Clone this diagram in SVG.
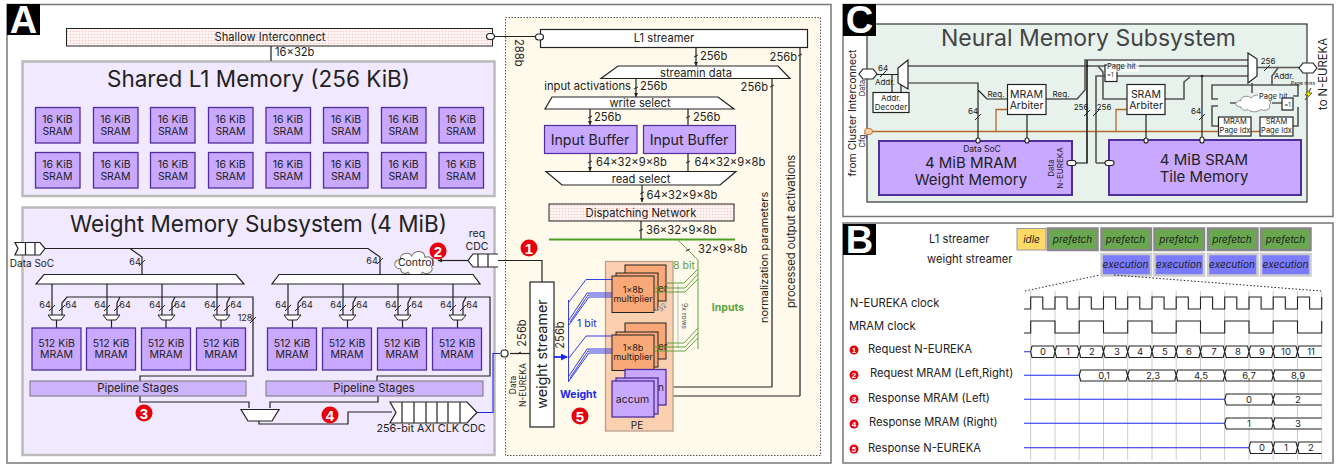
<svg xmlns="http://www.w3.org/2000/svg" width="1338" height="464" viewBox="0 0 1338 464">
<style>
text{font-family:Inter,"Noto Sans","DejaVu Sans",sans-serif;fill:#222}
.c{text-anchor:middle}.e{text-anchor:end}
.p{fill:none;stroke:#222;stroke-width:1.2}
.g{fill:none;stroke:#555;stroke-width:1.6}
.lbl{font-size:11.200px}
.pan{fill:#fff;stroke:#777;stroke-width:1.5}
.sys{fill:#f1e9ff;stroke:#bbb;stroke-width:2.5}
.pu{fill:#c9a8ff;stroke:#4f2d9e;stroke-width:1.3}
.or{fill:#f9a877;stroke:#222;stroke-width:1}
.wh{fill:#fff;stroke:#222;stroke-width:1.2}
.mx{fill:#fff;stroke:#222;stroke-width:1.2}
.bl{fill:none;stroke:#1c28e8;stroke-width:.9}
.gr{fill:none;stroke:#4f9e2b;stroke-width:.9}
.org{fill:none;stroke:#b5652a;stroke-width:1.3}
.hd{fill:#000}.hdt{font-size:38px;font-weight:800;fill:#fff;font-family:"Liberation Sans",sans-serif}
.pre{fill:#6aa84f;stroke:#888;stroke-width:2.5}
.exe{fill:#7b7bff;stroke:#ccc;stroke-width:2.5}
.it{font-style:italic;font-size:10px}
.v{fill:#fff;stroke:#222;stroke-width:1.1}
.vt{font-size:9.500px}
.wv{fill:none;stroke:#222;stroke-width:1.1}
.grid{stroke:#ccc;stroke-width:1}
.rl{font-size:11.200px}
.nb{fill:#e8000d}.nbt{fill:#fff;font-weight:800;text-anchor:middle;font-family:"Liberation Sans",sans-serif}
.port{fill:#fff;stroke:#222;stroke-width:1.1}
</style>
<defs>
<pattern id="dots" width="3" height="3" patternUnits="userSpaceOnUse"><rect width="3" height="3" fill="#fff6f4"/><circle cx="1.5" cy="1.5" r=".8" fill="#f6c4c4"/></pattern>
<marker id="ah" markerUnits="userSpaceOnUse" markerWidth="5" markerHeight="5" refX="4" refY="2.5" orient="auto"><path d="M0 .5L4 2.500L0 4.500Z" fill="#222"/></marker>
<marker id="bh" markerUnits="userSpaceOnUse" markerWidth="7" markerHeight="7" refX="6" refY="3.5" orient="auto"><path d="M0 0L7 3.500L0 7Z" fill="#1c28e8"/></marker>
<path id="t" d="M-3 3L3-3" fill="none" stroke="#222" stroke-width="1"/>
<path id="k" d="M-2 1L2-1" fill="none" stroke="#222" stroke-width="1"/>
<path id="cl" d="M-14 5C-21 5-21-3-14-3C-15-9-6-10-4-6C-1-12 8-11 8-5C14-7 18 0 14 3C17 8 9 11 6 8C3 12-5 12-7 8C-10 10-14 9-14 5Z" fill="#fff" stroke="#777" stroke-width=".9"/>
</defs>

<g id="panel-A"><rect class="pan" x="7" y="4.500" width="824" height="458.500"/><rect class="hd" x="7" y="4" width="33" height="31"/><text class="hdt c" x="23.500" y="33">A</text></g>
<g id="panel-C"><rect class="pan" x="843" y="4.500" width="490" height="212"/></g>
<g id="panel-B"><rect class="pan" x="843" y="223" width="490" height="240"/><rect class="hd" x="843" y="224" width="33" height="31"/><text class="hdt c" x="859.500" y="253">B</text></g>

<g id="shared-l1"><rect class="sys" x="22.500" y="61.500" width="472" height="134.500"/><text class="c" x="258.500" y="86.500" font-size="22.500">Shared L1 Memory (256 KiB)</text></g>
<g id="weight-memory"><rect class="sys" x="22.500" y="207.500" width="472" height="247.500"/><text class="c" x="258.500" y="231.500" font-size="22.500">Weight Memory Subsystem (4 MiB)</text></g>
<g id="nexus"><rect x="505.500" y="17.500" width="315" height="438" fill="#fffaeb" stroke="#555" stroke-width="1" stroke-dasharray="1.500 1.500"/></g>

<g id="connectors-a">
<path class="g" d="M271 46V61"/>
<path class="p" d="M492 36.500H540"/>
<path class="p" d="M45 248.500H368L380 257V274M130 248.500L142 257V274"/>
<path class="p" d="M52 284V315M107 284V315M162 284V315M217 284V315M288 284V315M343 284V315M398 284V315M453 284V315"/>
<path class="p" d="M62 315V303L67 297H253V376H140V381M117 315V303L120 297M172 315V303L175 297M227 315V303L230 297"/>
<path class="p" d="M298 315V303L303 297H490V376H377V381M353 315V303L356 297M408 315V303L411 297M463 315V303L466 297"/>
<path class="p" d="M56.500 320V328M111.500 320V328M166 320V328M221 320V328M292.500 320V328M347.500 320V328M402.500 320V328M457.500 320V328"/>
<path class="p" d="M140 396V402H249V408M378 396V402H270V408M259 421V424H348V412H392"/>
<path fill="none" stroke="#1c28e8" stroke-width="1.100" d="M477 412.500H493V353.500H500"/>
<path class="p" marker-end="url(#ah)" d="M468 260.500H438"/>
<path class="p" d="M498 260.500H542V282"/>
<path class="p" d="M510 353.500H530"/>
<path class="p" marker-end="url(#ah)" d="M696 47V66"/>
<path class="p" marker-end="url(#ah)" d="M636 79V97"/>
<path class="p" marker-end="url(#ah)" d="M590 109V125"/>
<path class="p" d="M688 109V125"/>
<path class="p" marker-end="url(#ah)" d="M590 153V171"/>
<path class="p" d="M688 153V171"/>
<path class="p" marker-end="url(#ah)" d="M642 185V202"/>
<path class="p" d="M641 221V239"/>
<path class="g" d="M772 387V78"/>
<path class="p" d="M772 387H666" marker-end="url(#ah)"/>
<path class="g" d="M800 396V47"/>
<path class="p" d="M666 396H800"/>
<use href="#k" x="696" y="56"/><use href="#k" x="636" y="88"/><use href="#k" x="590" y="117"/><use href="#k" x="688" y="117"/><use href="#k" x="590" y="162"/><use href="#k" x="688" y="162"/><use href="#k" x="642" y="193"/><use href="#k" x="641" y="230"/><use href="#k" x="772" y="86"/><use href="#k" x="800" y="55"/><use href="#k" x="519" y="353"/>
<use href="#t" x="52" y="308"/><use href="#t" x="62" y="308"/><use href="#t" x="107" y="308"/><use href="#t" x="117" y="308"/><use href="#t" x="162" y="308"/><use href="#t" x="172" y="308"/><use href="#t" x="217" y="308"/><use href="#t" x="227" y="308"/>
<use href="#t" x="288" y="308"/><use href="#t" x="298" y="308"/><use href="#t" x="343" y="308"/><use href="#t" x="353" y="308"/><use href="#t" x="398" y="308"/><use href="#t" x="408" y="308"/><use href="#t" x="453" y="308"/><use href="#t" x="463" y="308"/>
<use href="#t" x="142" y="263"/><use href="#t" x="380" y="261"/><use href="#t" x="253" y="320"/>
</g>

<g id="shallow-interconnect"><rect x="66.500" y="28.500" width="426" height="17.500" fill="url(#dots)" stroke="#222" stroke-width="1"/><rect class="port" x="486.500" y="33.500" width="8" height="6" rx="3"/><text class="c lbl" x="270" y="40.500">Shallow Interconnect</text></g>
<text class="lbl" x="275" y="56">16×32b</text>

<g id="sram-nodes" font-size="10.500">
<g id="s1"><rect class="pu" x="35.500" y="107.500" width="44.500" height="35.500"/><text class="c" x="57.500" y="122.500">16 KiB</text><text class="c" x="57.500" y="134.500">SRAM</text></g>
<g id="s2"><rect class="pu" x="93.500" y="107.500" width="44.500" height="35.500"/><text class="c" x="115.500" y="122.500">16 KiB</text><text class="c" x="115.500" y="134.500">SRAM</text></g>
<g id="s3"><rect class="pu" x="150.500" y="107.500" width="44.500" height="35.500"/><text class="c" x="173" y="122.500">16 KiB</text><text class="c" x="173" y="134.500">SRAM</text></g>
<g id="s4"><rect class="pu" x="208.500" y="107.500" width="44.500" height="35.500"/><text class="c" x="230.500" y="122.500">16 KiB</text><text class="c" x="230.500" y="134.500">SRAM</text></g>
<g id="s5"><rect class="pu" x="266" y="107.500" width="44.500" height="35.500"/><text class="c" x="288" y="122.500">16 KiB</text><text class="c" x="288" y="134.500">SRAM</text></g>
<g id="s6"><rect class="pu" x="323.500" y="107.500" width="44.500" height="35.500"/><text class="c" x="346" y="122.500">16 KiB</text><text class="c" x="346" y="134.500">SRAM</text></g>
<g id="s7"><rect class="pu" x="381.500" y="107.500" width="44.500" height="35.500"/><text class="c" x="403.500" y="122.500">16 KiB</text><text class="c" x="403.500" y="134.500">SRAM</text></g>
<g id="s8"><rect class="pu" x="439" y="107.500" width="44.500" height="35.500"/><text class="c" x="461" y="122.500">16 KiB</text><text class="c" x="461" y="134.500">SRAM</text></g>
<g id="s9"><rect class="pu" x="35.500" y="152.500" width="44.500" height="35.500"/><text class="c" x="57.500" y="167.500">16 KiB</text><text class="c" x="57.500" y="179.500">SRAM</text></g>
<g id="s10"><rect class="pu" x="93.500" y="152.500" width="44.500" height="35.500"/><text class="c" x="115.500" y="167.500">16 KiB</text><text class="c" x="115.500" y="179.500">SRAM</text></g>
<g id="s11"><rect class="pu" x="150.500" y="152.500" width="44.500" height="35.500"/><text class="c" x="173" y="167.500">16 KiB</text><text class="c" x="173" y="179.500">SRAM</text></g>
<g id="s12"><rect class="pu" x="208.500" y="152.500" width="44.500" height="35.500"/><text class="c" x="230.500" y="167.500">16 KiB</text><text class="c" x="230.500" y="179.500">SRAM</text></g>
<g id="s13"><rect class="pu" x="266" y="152.500" width="44.500" height="35.500"/><text class="c" x="288" y="167.500">16 KiB</text><text class="c" x="288" y="179.500">SRAM</text></g>
<g id="s14"><rect class="pu" x="323.500" y="152.500" width="44.500" height="35.500"/><text class="c" x="346" y="167.500">16 KiB</text><text class="c" x="346" y="179.500">SRAM</text></g>
<g id="s15"><rect class="pu" x="381.500" y="152.500" width="44.500" height="35.500"/><text class="c" x="403.500" y="167.500">16 KiB</text><text class="c" x="403.500" y="179.500">SRAM</text></g>
<g id="s16"><rect class="pu" x="439" y="152.500" width="44.500" height="35.500"/><text class="c" x="461" y="167.500">16 KiB</text><text class="c" x="461" y="179.500">SRAM</text></g>
</g>

<g id="weight-parts">
<g id="data-soc-fifo"><path class="wh" d="M15 242.500H40L45 248.500L40 255H15L18 248.500ZM25.500 242.500V255M35 242.500V255"/><text class="c" x="32" y="267" font-size="10">Data SoC</text></g>
<g id="control"><use href="#cl" transform="translate(416 263) scale(1.100 1.150)"/><text class="c" x="416" y="266" font-size="10.500">Control</text></g>
<g id="req-cdc"><path class="wh" d="M498 254H473L468 260.500L473 267H498M478 254V267M488 254V267"/><text class="c" x="477" y="236.500" font-size="10.500">req</text><text class="c" x="477" y="249.500" font-size="10.500">CDC</text></g>
<polygon id="dec-left" class="mx" points="44,274.500 236,274.500 244,284 36,284"/>
<polygon id="dec-right" class="mx" points="279,274.500 473,274.500 480,284 272,284"/>
<g fill="#fff" stroke="#222" stroke-width="1"><path d="M48 315H65L61 320H52Z"/><path d="M103 315H120L116 320H107Z"/><path d="M158 315H175L171 320H162Z"/><path d="M213 315H230L226 320H217Z"/><path d="M284 315H301L297 320H288Z"/><path d="M339 315H356L352 320H343Z"/><path d="M394 315H411L407 320H398Z"/><path d="M449 315H466L462 320H453Z"/></g>
<g font-size="9">
<text class="c" x="45" y="308">64</text><text class="c" x="71" y="308">64</text><text class="c" x="100" y="308">64</text><text class="c" x="125" y="308">64</text><text class="c" x="155" y="308">64</text><text class="c" x="180" y="308">64</text><text class="c" x="210" y="308">64</text><text class="c" x="236" y="308">64</text>
<text class="c" x="281" y="308">64</text><text class="c" x="307" y="308">64</text><text class="c" x="336" y="308">64</text><text class="c" x="362" y="308">64</text><text class="c" x="391" y="308">64</text><text class="c" x="417" y="308">64</text><text class="c" x="446" y="308">64</text><text class="c" x="472" y="308">64</text>
<text class="c" x="135" y="265">64</text><text class="c" x="372" y="264">64</text><text class="c" x="245" y="321">128</text></g>
<g id="mram1"><rect class="pu" x="32" y="328" width="49" height="42"/><text class="c" font-size="10.500" x="56.500" y="347">512 KiB</text><text class="c" font-size="10.500" x="56.500" y="358">MRAM</text></g>
<g id="mram2"><rect class="pu" x="86.500" y="328" width="49" height="42"/><text class="c" font-size="10.500" x="111" y="347">512 KiB</text><text class="c" font-size="10.500" x="111" y="358">MRAM</text></g>
<g id="mram3"><rect class="pu" x="141.500" y="328" width="49" height="42"/><text class="c" font-size="10.500" x="166" y="347">512 KiB</text><text class="c" font-size="10.500" x="166" y="358">MRAM</text></g>
<g id="mram4"><rect class="pu" x="196.500" y="328" width="49" height="42"/><text class="c" font-size="10.500" x="221" y="347">512 KiB</text><text class="c" font-size="10.500" x="221" y="358">MRAM</text></g>
<g id="mram5"><rect class="pu" x="267.500" y="328" width="49" height="42"/><text class="c" font-size="10.500" x="292" y="347">512 KiB</text><text class="c" font-size="10.500" x="292" y="358">MRAM</text></g>
<g id="mram6"><rect class="pu" x="322.500" y="328" width="49" height="42"/><text class="c" font-size="10.500" x="347" y="347">512 KiB</text><text class="c" font-size="10.500" x="347" y="358">MRAM</text></g>
<g id="mram7"><rect class="pu" x="377.500" y="328" width="49" height="42"/><text class="c" font-size="10.500" x="402" y="347">512 KiB</text><text class="c" font-size="10.500" x="402" y="358">MRAM</text></g>
<g id="mram8"><rect class="pu" x="432.500" y="328" width="49" height="42"/><text class="c" font-size="10.500" x="457" y="347">512 KiB</text><text class="c" font-size="10.500" x="457" y="358">MRAM</text></g>
<g id="pipe-left"><rect x="30" y="381" width="216" height="15" fill="#cdb4fb" stroke="#777"/><text class="c lbl" x="138" y="392">Pipeline Stages</text></g>
<g id="pipe-right"><rect x="266" y="381" width="217" height="15" fill="#cdb4fb" stroke="#777"/><text class="c lbl" x="374" y="392">Pipeline Stages</text></g>
<polygon id="mux-out" class="mx" points="241,409.500 279,409.500 272,421 248,421"/>
<g id="axi-cdc"><path class="wh" d="M390 402H467L477 412.500L467 423H390L396 412.500ZM402 402V423M414 402V423M426 402V423M437 402V423M448 402V423M460 402V423"/><text class="c" x="431" y="431.500" font-size="10.800">256-bit AXI CLK CDC</text></g>
</g>

<g id="nexus-parts">
<g id="l1-streamer"><rect class="wh" x="540.500" y="29.500" width="267" height="18"/><rect class="port" x="535.500" y="34" width="8" height="6" rx="3"/><text class="c lbl" x="664" y="42">L1 streamer</text></g>
<text class="lbl" transform="translate(515 39) rotate(90)">288b</text>
<g id="streamin"><polygon class="mx" points="618,66 778,66 790,78.500 601,78.500"/><text class="c lbl" x="696" y="76.500">streamin data</text></g>
<g id="write-select"><polygon class="mx" points="552,97 718,97 734,109 545,109"/><text class="c lbl" x="640" y="107">write select</text></g>
<g id="ib1"><rect x="544.500" y="125.500" width="92.500" height="28" fill="#c9a8ff" stroke="#4f2d9e" stroke-width="1.200"/><text class="c" x="590" y="144.500" font-size="14.200">Input Buffer</text></g>
<g id="ib2"><rect x="643.500" y="125.500" width="92" height="28" fill="#c9a8ff" stroke="#4f2d9e" stroke-width="1.200"/><text class="c" x="689" y="144.500" font-size="14.200">Input Buffer</text></g>
<g id="read-select"><polygon class="mx" points="546,171.500 736,171.500 720,185 562,185"/><text class="c lbl" x="641" y="183">read select</text></g>
<g id="dispatch"><rect x="549" y="204" width="185" height="17" fill="url(#dots)" stroke="#222" stroke-width="1"/><text class="c lbl" x="641" y="216.500">Dispatching Network</text></g>
<g class="lbl">
<text x="700" y="60">256b</text><text class="e" x="797" y="61">256b</text><text x="640" y="90">256b</text><text class="e" x="631" y="90">input activations</text><text class="e" x="768" y="90.500">256b</text>
<text x="594" y="121">256b</text><text x="693" y="121">256b</text><text x="596" y="166">64×32×9×8b</text><text x="694.500" y="166">64×32×9×8b</text><text x="646.500" y="199">64×32×9×8b</text><text x="646" y="234">36×32×9×8b</text><text x="698" y="253">32×9×8b</text>
</g>
<text font-size="10.900" transform="translate(768 323) rotate(-90)">normalization parameters</text>
<text font-size="11.200" transform="translate(795 308) rotate(-90)">processed output activations</text>
<g id="weight-streamer"><rect class="wh" x="530" y="282" width="24" height="145"/><text class="c" font-size="14.300" transform="translate(547 354) rotate(-90)">weight streamer</text></g>
<rect class="port" x="501" y="350" width="7" height="7" rx="3"/>
<text class="c lbl" transform="translate(526 333) rotate(-90)">256b</text>
<text class="c lbl" transform="translate(564 335) rotate(-90)">256b</text>
<g font-size="8.500"><text class="c" transform="translate(516 385) rotate(-90)">Data</text><text class="c" transform="translate(526 385) rotate(-90)">N-EUREKA</text></g>
<g id="pe"><rect x="605.500" y="261.500" width="67.500" height="169.500" fill="#fbd0b0" stroke="#b8a08f" stroke-width="1.300"/><text class="c" x="637" y="429" font-size="10">PE</text>
<rect class="or" x="625" y="265" width="41" height="36"/><text x="658" y="292" font-size="10">er</text><rect class="or" x="616" y="273" width="42" height="37"/>
<rect class="or" x="612" y="276" width="42" height="36.500"/><text class="c" x="633" y="293" font-size="9">1×8b</text><text class="c" x="633" y="302" font-size="9">multiplier</text>
<rect class="or" x="625" y="323" width="41" height="36"/><text x="658" y="350" font-size="10">er</text><rect class="or" x="616" y="332" width="42" height="35"/>
<rect class="or" x="612" y="335" width="42" height="35.500"/><text class="c" x="633" y="351" font-size="9">1×8b</text><text class="c" x="633" y="360" font-size="9">multiplier</text>
<rect class="pu" x="625" y="369.500" width="41" height="35.500"/><text x="658" y="391" font-size="10">n</text><rect class="pu" x="616" y="378" width="42" height="36"/>
<rect class="pu" x="612" y="381" width="42" height="36"/><text class="c" x="632.500" y="402.500" font-size="10.500">accum</text></g>
<path d="M678 285V348" stroke="#bbb" stroke-width="1" fill="none"/>
<text class="c" font-size="7" transform="translate(682 316) rotate(90)" style="fill:#555">9x rows</text>
<text class="c" font-size="7.500" transform="translate(664 309) rotate(-45)" style="fill:#777">32</text>
<path d="M654 312L668 301" stroke="#bbb" stroke-width="1.500" stroke-dasharray="1.500 1" fill="none"/>
<path d="M549 239.500H735" stroke="#4f9e2b" stroke-width="2.200" fill="none"/>
<path class="gr" d="M678 240L698 260V349"/>
<use href="#k" x="688" y="250"/>
<path class="gr" d="M698 269L684 283H667M698 274L685 288H654M698 279L685 292H654M698 328L684 343H667M698 333L685 347H654M698 338L685 351H654"/>
<text x="673" y="269" font-size="10.500" style="fill:#5aa33a">8 bit</text>
<text class="c" x="728" y="311" font-size="10.500" font-weight="700" style="fill:#5aa33a">Inputs</text>
<path class="bl" d="M568.500 300V382M569 302L586 279.500H612M569 320L587 293H612M570 322L588 295H612M569 325L589 297H612M569 358L586 336H612M569 376L587 349H612M570 378L588 351H612M569 381L589 353H612"/>
<path fill="none" stroke="#1c28e8" stroke-width="1.800" marker-end="url(#bh)" d="M554 357H567"/>
<text x="577" y="327" font-size="10.500" style="fill:#1c28e8">1 bit</text>
<text x="560" y="398" font-size="10.500" font-weight="700" style="fill:#1c28e8">Weight</text>
</g>

<g id="badges-a">
<circle class="nb" cx="529" cy="248" r="8.500"/><text class="nbt" x="529" y="253.500" font-size="15">1</text>
<circle class="nb" cx="438" cy="251" r="8.500"/><text class="nbt" x="438" y="256.500" font-size="15">2</text>
<circle class="nb" cx="144" cy="413" r="8.500"/><text class="nbt" x="144" y="418.500" font-size="15">3</text>
<circle class="nb" cx="330" cy="415" r="8.500"/><text class="nbt" x="330" y="420.500" font-size="15">4</text>
<circle class="nb" cx="580" cy="416" r="8.500"/><text class="nbt" x="580" y="421.500" font-size="15">5</text>
</g>

<g id="nms">
<rect x="867" y="24" width="440" height="178" fill="#e8f2ec" stroke="#333" stroke-width="1.200"/>
<rect class="hd" x="843" y="4" width="33" height="32"/><text class="hdt c" x="859.500" y="33">C</text>
<text class="c" x="1088.500" y="46" font-size="23" style="fill:#444">Neural Memory Subsystem</text>
<text class="c" font-size="10.500" transform="translate(856 113) rotate(-90)">from Cluster Interconnect</text>
<text class="c" font-size="7.500" transform="translate(865 88) rotate(-90)">Data</text>
<text class="c" font-size="7.500" transform="translate(865 140) rotate(-90)">Cfg.</text>
<text class="c" font-size="11.300" transform="translate(1327 74) rotate(-90)">to N-EUREKA</text>
</g>

<g id="connectors-c">
<path class="org" d="M868 131.500H1260M996 131.500V109.500H1007M1116 131.500V109.500H1127"/>
<path class="p" d="M877 74.500H898M892 74.500V92M901 85V92"/>
<path class="g" d="M908 66H1105"/>
<path class="p" d="M908 83H978V142M978 90L987 99H1007"/>
<path class="g" d="M1046 99H1077L1085 90V60H1248M1072 163H1087V60"/>
<path class="p" d="M1087 60V163"/>
<path class="p" d="M1027 114V140M1146 114V140"/>
<path class="g" d="M1096 163H1105M1096 163V76H1248M1117 66H1248"/>
<path class="g" d="M1098 66L1103 72V99H1127M1165 99H1184V82L1190 77"/>
<path class="p" d="M1202 76V140"/>
<path class="g" d="M1257 67.500H1299M1272 85V76L1278 68M1272 85H1212V99H1218M1218 106H1212V126H1218M1230 103H1248M1252 83V93M1272 103H1282M1272 85H1298V96H1293M1298 107V126H1293"/>
<use href="#t" x="883" y="74"/><use href="#t" x="978" y="117"/><use href="#t" x="1202" y="117"/><use href="#t" x="1267" y="68"/><use href="#t" x="1087" y="113"/><use href="#t" x="1096" y="113"/>
<circle cx="1202" cy="76" r="1.300" fill="#222"/><circle cx="1087" cy="66" r="1.300" fill="#222"/>
</g>
<g id="nms-parts" font-size="8">
<polygon points="898,68 908,60 908,89 898,83" fill="#fff" stroke="#222" stroke-width="1.200"/>
<polygon points="1248,53 1257,59 1257,76 1248,83" fill="#fff" stroke="#222" stroke-width="1.200"/>
<g id="c-in"><path class="wh" d="M863 69H873L877 74L873 79H863L859 74Z"/><text class="c" x="883" y="71">64</text><text class="c" x="885" y="85">Addr.</text></g>
<rect x="864.500" y="128.500" width="8" height="6" rx="3" fill="#f4d0b0" stroke="#c87030"/>
<g id="addr-dec"><rect class="wh" x="873" y="92.500" width="36" height="20"/><text class="c" x="891" y="101">Addr.</text><text class="c" x="891" y="109.500">Decoder</text></g>
<g id="mram-arb"><rect class="wh" x="1007.500" y="84.500" width="38.500" height="30"/><text class="c" x="1026.500" y="98" font-size="10.500">MRAM</text><text class="c" x="1026.500" y="108.500" font-size="10.500">Arbiter</text></g>
<g id="sram-arb"><rect class="wh" x="1127" y="84.500" width="38" height="30"/><text class="c" x="1146" y="98" font-size="10.500">SRAM</text><text class="c" x="1146" y="108.500" font-size="10.500">Arbiter</text></g>
<text class="c" x="996" y="97">Req.</text><text class="c" x="1061" y="97">Req.</text><text class="c" x="973" y="114">64</text><text class="c" x="1081" y="110">256</text><text class="c" x="1104" y="110">256</text><text class="c" x="1196" y="114">64</text><text class="c" x="1268" y="64">256</text><text class="c" x="1284" y="79">Addr.</text>
<g id="mram-mem"><rect x="879" y="141" width="193" height="54" fill="#c9a8ff" stroke="#4f2d9e" stroke-width="2"/><text class="c" x="982" y="151.500" font-size="8.500">Data SoC</text><text class="c" x="971" y="168" font-size="15">4 MiB MRAM</text><text class="c" x="971" y="185" font-size="15">Weight Memory</text><text class="c" font-size="8" transform="translate(1054 168) rotate(-90)">Data</text><text class="c" font-size="8" transform="translate(1063 168) rotate(-90)">N-EUREKA</text></g>
<g id="sram-mem"><rect x="1109" y="140" width="192" height="55" fill="#c9a8ff" stroke="#4f2d9e" stroke-width="2"/><text class="c" x="1204" y="165" font-size="15">4 MiB SRAM</text><text class="c" x="1204" y="182" font-size="15">Tile Memory</text></g>
<rect class="port" x="1067" y="160.500" width="9" height="5" rx="2.500"/><rect class="port" x="1105" y="160.500" width="9" height="5" rx="2.500"/>
<rect class="port" x="976" y="138" width="4" height="5" rx="2"/><rect class="port" x="1025" y="138" width="4" height="5" rx="2"/><rect class="port" x="1144" y="138" width="4" height="5" rx="2"/><rect class="port" x="1200" y="137" width="4" height="6" rx="2"/>
<g id="page-mux"><rect class="wh" x="1105" y="65" width="12" height="16.500"/><rect x="1107" y="62" width="32" height="10" fill="#fff" opacity=".7"/><text x="1107" y="69" font-size="7.500">Page hit</text><text x="1107" y="77" font-size="6">=1</text></g>
<g id="out-fifo"><path class="wh" d="M1303 63H1313L1317 68L1313 73H1303L1299 68Z"/></g>
<g id="cloud-c"><use href="#cl" transform="translate(1255 103) scale(1 .8)"/></g>
<rect x="1258" y="91" width="30" height="9" fill="#fff" opacity=".75"/><text x="1259" y="99" font-size="7.500">Page hit</text>
<g id="page-hit"><rect class="wh" x="1282" y="98" width="11" height="12"/><text class="c" x="1287.500" y="107" font-size="6">=1</text></g>
<g id="mram-idx"><rect class="wh" x="1218.500" y="117" width="32.500" height="19"/><text class="c" x="1235" y="124" font-size="7.500">MRAM</text><text class="c" x="1235" y="133" font-size="7.500">Page Idx</text></g>
<g id="sram-idx"><rect class="wh" x="1260" y="117" width="33" height="19"/><text class="c" x="1276.500" y="124" font-size="7.500">SRAM</text><text class="c" x="1276.500" y="133" font-size="7.500">Page Idx</text></g>
<text class="c" x="1303" y="85" font-size="5">Page miss</text>
<path d="M1311 88L1305 95H1308L1305 100L1312 93H1309Z" fill="#ffe600" stroke="#222" stroke-width=".6"/>
</g>

<g id="timeline">
<text x="929" y="243" class="rl">L1 streamer</text><text x="927" y="263" class="rl">weight streamer</text>
<g id="st-idle"><rect x="1017" y="228.500" width="29" height="21.500" fill="#ffd966" stroke="#999"/><text class="c it" x="1031.500" y="242.500">idle</text></g>
<g id="st-p1"><rect class="pre" x="1048" y="228.500" width="49.500" height="21.500"/><text class="c it" x="1072.500" y="242.500">prefetch</text></g>
<g id="st-p2"><rect class="pre" x="1101.500" y="228.500" width="49.500" height="21.500"/><text class="c it" x="1125.500" y="242.500">prefetch</text></g>
<g id="st-p3"><rect class="pre" x="1154.500" y="228.500" width="49.500" height="21.500"/><text class="c it" x="1179" y="242.500">prefetch</text></g>
<g id="st-p4"><rect class="pre" x="1208" y="228.500" width="49.500" height="21.500"/><text class="c it" x="1232" y="242.500">prefetch</text></g>
<g id="st-p5"><rect class="pre" x="1261" y="228.500" width="49.500" height="21.500"/><text class="c it" x="1285.500" y="242.500">prefetch</text></g>
<g id="st-e1"><rect class="exe" x="1101.500" y="254" width="49.500" height="21.500"/><text class="c it" x="1125.500" y="268">execution</text></g>
<g id="st-e2"><rect class="exe" x="1154.500" y="254" width="49.500" height="21.500"/><text class="c it" x="1179" y="268">execution</text></g>
<g id="st-e3"><rect class="exe" x="1208" y="254" width="49.500" height="21.500"/><text class="c it" x="1232" y="268">execution</text></g>
<g id="st-e4"><rect class="exe" x="1261" y="254" width="49.500" height="21.500"/><text class="c it" x="1285.500" y="268">execution</text></g>
<path d="M1025 291L1100 275M1114 275L1321 291" stroke="#222" stroke-width="1" stroke-dasharray="1.500 2" fill="none"/>
<path class="grid" d="M1030.700 291V460M1055 291V460M1079.200 291V460M1103.500 291V460M1127.700 291V460M1152 291V460M1176.200 291V460M1200.500 291V460M1224.700 291V460M1249 291V460M1273.200 291V460M1297.500 291V460M1321.700 291V460"/>
<path class="wv" d="M1024 309H1030.700V297H1042.800V309H1055V297H1067.100V309H1079.200V297H1091.300V309H1103.500V297H1115.600V309H1127.700V297H1139.800V309H1152V297H1164.100V309H1176.200V297H1188.300V309H1200.500V297H1212.600V309H1224.700V297H1236.800V309H1249V297H1261.100V309H1273.200V297H1285.300V309H1297.500V297H1309.600V309H1321.700V297"/>
<path class="wv" d="M1024 333H1030.700V321H1055V333H1079.200V321H1103.500V333H1127.700V321H1152V333H1176.200V321H1200.500V333H1224.700V321H1249V333H1273.200V321H1297.500V333H1321.700V321"/>
<text x="850" y="306.500" class="rl">N-EUREKA clock</text><text x="849" y="330" class="rl">MRAM clock</text>
<text x="868" y="352.500" class="rl">Request N-EUREKA</text><text x="870" y="376.500" class="rl">Request MRAM (Left,Right)</text><text x="868" y="401.500" class="rl">Response MRAM (Left)</text><text x="869" y="426" class="rl">Response MRAM (Right)</text><text x="868" y="451.500" class="rl">Response N-EUREKA</text>
<g font-size="8"><circle class="nb" cx="854" cy="350" r="4.500"/><text class="nbt" x="854" y="353">1</text><circle class="nb" cx="854" cy="375" r="4.500"/><text class="nbt" x="854" y="378">2</text><circle class="nb" cx="854" cy="399" r="4.500"/><text class="nbt" x="854" y="402">3</text><circle class="nb" cx="854" cy="424" r="4.500"/><text class="nbt" x="854" y="427">4</text><circle class="nb" cx="854" cy="449" r="4.500"/><text class="nbt" x="854" y="452">5</text></g>
<path fill="none" stroke="#1c28e8" stroke-width="1.100" d="M1024 351.700H1030.700M1024 375.300H1079M1024 399.300H1224.700M1024 423.300H1224.700M1024 447.700H1249"/>
<g class="v">
<path d="M1032 346H1053.500L1055 351.700L1053.500 357.500H1032L1030.700 351.700ZM1056.500 346H1077.500L1079.200 351.700L1077.500 357.500H1056.500L1055 351.700ZM1080.700 346H1102L1103.500 351.700L1102 357.500H1080.700L1079.200 351.700ZM1105 346H1126L1127.700 351.700L1126 357.500H1105L1103.500 351.700ZM1129.200 346H1150.500L1152 351.700L1150.500 357.500H1129.200L1127.700 351.700ZM1153.500 346H1174.700L1176.200 351.700L1174.700 357.500H1153.500L1152 351.700ZM1177.700 346H1199L1200.500 351.700L1199 357.500H1177.700L1176.200 351.700ZM1202 346H1223.200L1224.700 351.700L1223.200 357.500H1202L1200.500 351.700ZM1226.200 346H1247.500L1249 351.700L1247.500 357.500H1226.200L1224.700 351.700ZM1250.500 346H1271.700L1273.200 351.700L1271.700 357.500H1250.500L1249 351.700ZM1274.700 346H1296L1297.500 351.700L1296 357.500H1274.700L1273.200 351.700ZM1321.700 346H1299L1297.500 351.700L1299 357.500H1321.700"/>
<path d="M1080.700 370H1126L1127.700 375.500L1126 381H1080.700L1079.200 375.500ZM1129.200 370H1174.700L1176.200 375.500L1174.700 381H1129.200L1127.700 375.500ZM1177.700 370H1223.200L1224.700 375.500L1223.200 381H1177.700L1176.200 375.500ZM1226.200 370H1271.700L1273.200 375.500L1271.700 381H1226.200L1224.700 375.500ZM1321.700 370H1274.700L1273.200 375.500L1274.700 381H1321.700"/>
<path d="M1226.200 394H1271.700L1273.200 399.500L1271.700 405H1226.200L1224.700 399.500ZM1321.700 394H1274.700L1273.200 399.500L1274.700 405H1321.700"/>
<path d="M1226.200 418H1271.700L1273.200 423.500L1271.700 429H1226.200L1224.700 423.500ZM1321.700 418H1274.700L1273.200 423.500L1274.700 429H1321.700"/>
<path d="M1250.500 442H1271.700L1273.200 447.700L1271.700 453.500H1250.500L1249 447.700ZM1274.700 442H1296L1297.500 447.700L1296 453.500H1274.700L1273.200 447.700ZM1321.700 442H1299L1297.500 447.700L1299 453.500H1321.700"/>
</g>
<g class="vt">
<text class="c" x="1043" y="355">0</text><text class="c" x="1068" y="355">1</text><text class="c" x="1092" y="355">2</text><text class="c" x="1117" y="355">3</text><text class="c" x="1140" y="355">4</text><text class="c" x="1165" y="355">5</text><text class="c" x="1189" y="355">6</text><text class="c" x="1214" y="355">7</text><text class="c" x="1238" y="355">8</text><text class="c" x="1262" y="355">9</text><text class="c" x="1286" y="355">10</text><text class="c" x="1311" y="355">11</text>
<text class="c" x="1104" y="379">0,1</text><text class="c" x="1153" y="379">2,3</text><text class="c" x="1201" y="379">4,5</text><text class="c" x="1249" y="379">6,7</text><text class="c" x="1298" y="379">8,9</text>
<text class="c" x="1249" y="403">0</text><text class="c" x="1298" y="403">2</text><text class="c" x="1249" y="427">1</text><text class="c" x="1298" y="427">3</text>
<text class="c" x="1262" y="451">0</text><text class="c" x="1286" y="451">1</text><text class="c" x="1311" y="451">2</text>
</g>
</g>
</svg>
